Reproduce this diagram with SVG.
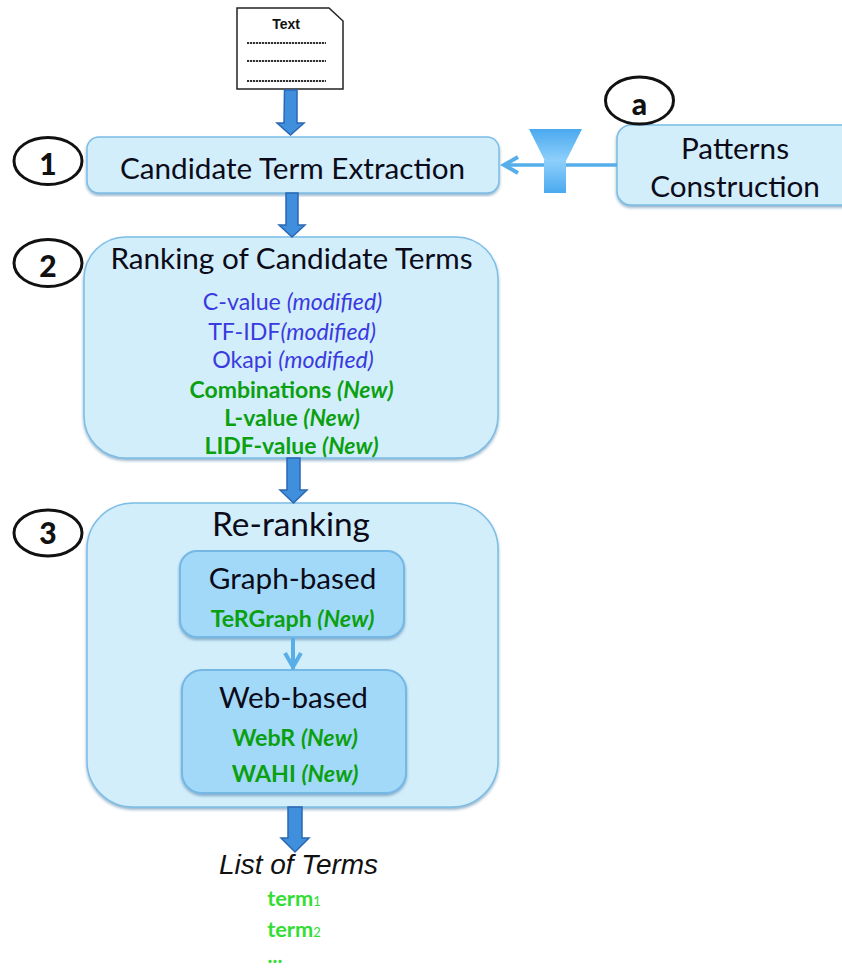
<svg xmlns="http://www.w3.org/2000/svg" width="842" height="969" viewBox="0 0 842 969">
<style>
text{font-family:Lato,"Liberation Sans",sans-serif;text-anchor:middle}
.box{fill:#d3eefb;stroke:#7cbde6;stroke-width:1.5;filter:url(#sh)}
.in{fill:#a3d9f8;stroke:#74b8e6;stroke-width:2;filter:url(#sh)}
.t{fill:#0b0b1a;font-size:29.7px}
.b{fill:#3a3ae0;font-size:23.2px}
.g{fill:#0aa010;font-size:23px;font-weight:700}
.i{font-style:italic}
.c{fill:#fff;stroke:#111;stroke-width:3}
.n{fill:#111;font-size:30px;font-weight:900}
.ar{fill:#3f8fdc;stroke:#2a68b4;stroke-width:1.5}
.dash{fill:none;stroke:#333;stroke-width:2;stroke-dasharray:2.2 .8}
.tm{font-size:21.8px;font-weight:700;fill:#33dd33}
.sub{font-size:13px;font-weight:400}
</style>
<defs>
<filter id="sh" x="-5%" y="-5%" width="110%" height="112%"><feDropShadow dx="0" dy="2" stdDeviation="1.5" flood-color="#4a7fa8" flood-opacity=".6"/></filter>
<linearGradient id="fun" x1="0" y1="0" x2="0" y2="1"><stop offset="0" stop-color="#4aa9ef"/><stop offset="1" stop-color="#8fd0fb"/></linearGradient>
<linearGradient id="fun2" x1="0" y1="0" x2="0" y2="1"><stop offset="0" stop-color="#8fd0fb"/><stop offset="1" stop-color="#4aa9ef"/></linearGradient>
</defs>
<g id="doc">
<path d="M237 8h92l14 13v68h-106z" fill="#fff" stroke="#222" stroke-width="1.5"/>
<text x="286" y="29" style="font-family:'Liberation Sans',sans-serif;font-size:14px;font-weight:700;fill:#111">Text</text>
<path class="dash" d="M247 43h79M247 61h79M247 81h79"/>
</g>
<g id="node-1">
<rect class="box" x="87" y="137" width="412" height="56" rx="12"/>
<text class="t" x="292.500" y="179">Candidate Term Extraction</text>
</g>
<g id="node-a">
<rect class="box" x="617" y="125" width="240" height="80" rx="14"/>
<text class="t" x="735" y="159">Patterns</text>
<text class="t" x="735" y="197">Construction</text>
</g>
<g id="node-2">
<rect class="box" x="84" y="237" width="414" height="221" rx="42"/>
<text class="t" x="291.500" y="269">Ranking of Candidate Terms</text>
<text class="b" x="292.500" y="310">C-value <tspan class="i">(modified)</tspan></text>
<text class="b" x="292" y="340">TF-IDF<tspan class="i">(modified)</tspan></text>
<text class="b" x="293" y="368">Okapi <tspan class="i">(modified)</tspan></text>
<text class="g" x="291.500" y="398">Combinations <tspan class="i">(New)</tspan></text>
<text class="g" x="292" y="426">L-value <tspan class="i">(New)</tspan></text>
<text class="g" x="291.500" y="454">LIDF-value <tspan class="i">(New)</tspan></text>
</g>
<g id="node-3">
<rect class="box" x="87" y="503" width="411" height="304" rx="46"/>
<text x="291" y="536" class="t" style="font-size:33.400px">Re-ranking</text>
</g>
<g id="node-graph">
<rect class="in" x="180" y="551" width="224" height="86" rx="17"/>
<text class="t" x="292.500" y="589">Graph-based</text>
<text class="g" x="292.500" y="627" style="font-size:23.200px">TeRGraph <tspan class="i">(New)</tspan></text>
</g>
<g id="node-web">
<rect class="in" x="182" y="670" width="224" height="123" rx="20"/>
<text class="t" x="293.500" y="708">Web-based</text>
<text class="g" x="295" y="746" style="font-size:23.200px">WebR <tspan class="i">(New)</tspan></text>
<text class="g" x="295" y="782" style="font-size:23.200px">WAHI <tspan class="i">(New)</tspan></text>
</g>
<g id="badge-1"><ellipse class="c" cx="48" cy="161" rx="34" ry="23.500"/><text class="n" x="48" y="175">1</text></g>
<g id="badge-2"><ellipse class="c" cx="48" cy="263" rx="34" ry="23.500"/><text class="n" x="48" y="277">2</text></g>
<g id="badge-3"><ellipse class="c" cx="48" cy="533" rx="34" ry="23"/><text class="n" x="48" y="544">3</text></g>
<g id="badge-a"><ellipse class="c" cx="639.500" cy="100.500" rx="34" ry="23.500"/><text class="n" x="639.500" y="115">a</text></g>
<g id="output">
<text x="298.500" y="874" style="font-family:'Liberation Sans',sans-serif;font-style:italic;font-size:28px;fill:#111">List of Terms</text>
<text x="294" y="906" class="tm">term<tspan class="sub">1</tspan></text>
<text x="294" y="937" class="tm">term<tspan class="sub">2</tspan></text>
<text x="275" y="963" class="tm" style="font-size:21px">...</text>
</g>
<g id="connectors">
<path class="ar" d="M284.500 90h12.500v33h7l-13.500 12-13.500-12h7z"/>
<path class="ar" d="M286 193h12v32h7l-13 12-13-12h7z"/>
<path class="ar" d="M287 458h13v32h7l-13.500 13-13.500-13h7z"/>
<path class="ar" d="M288 807h14v31h7l-14 14-14-14h7z"/>
<path d="M617 165H506" fill="none" stroke="#55aeea" stroke-width="3.500"/>
<path d="M518 157l-14 8 14 8" fill="none" stroke="#55aeea" stroke-width="4"/>
<path d="M293 638v31" fill="none" stroke="#5aaee8" stroke-width="4"/>
<path d="M285 653l8 14 8-14" fill="none" stroke="#5aaee8" stroke-width="4"/>
<path d="M529 129h53l-16 32h-21z" fill="url(#fun)"/>
<rect x="544" y="160" width="22" height="33" fill="url(#fun2)"/>
</g>
</svg>
